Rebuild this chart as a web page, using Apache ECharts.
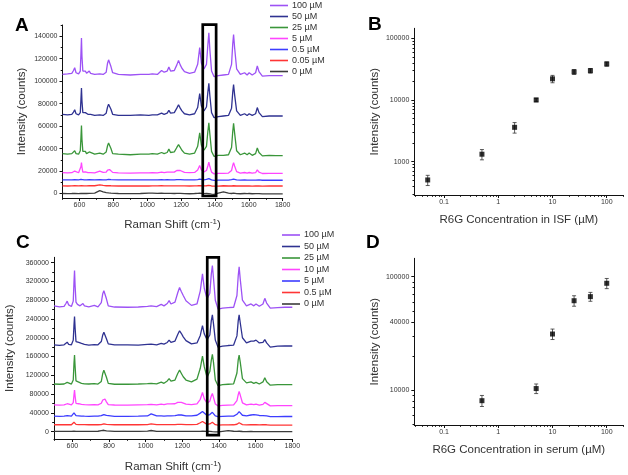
<!DOCTYPE html>
<html><head><meta charset="utf-8">
<script src="https://cdn.jsdelivr.net/npm/echarts@6/dist/echarts.min.js"></script>
<style>html,body{margin:0;padding:0;background:#fff}#c{width:628px;height:475px}</style>
</head><body><div id="c"></div>
<script>
// ---------------- DATA ----------------
const ramanShift = [500,530,555,565,572,580,595,605,609,612,615,620,628,635,642,650,658,666,690,720,740,758,766,772,778,786,796,830,900,960,1010,1030,1060,1085,1100,1118,1128,1138,1160,1175,1185,1195,1205,1220,1250,1280,1298,1310,1320,1335,1350,1358,1364,1370,1380,1395,1420,1450,1480,1498,1505,1510,1516,1528,1550,1575,1590,1602,1620,1640,1650,1660,1680,1720,1760,1800];

// Panel A (ISF)
const a100 = [106000,106500,107000,109500,112000,107500,106500,109000,125000,138500,122000,109000,107500,109000,107000,107000,109000,107000,106000,106500,106000,108000,116000,119000,118500,113000,107500,106000,105500,106000,106000,106500,106000,109500,108000,109000,112500,109000,109500,114500,118500,114500,111500,108500,107000,108000,115000,130000,116000,111000,115000,132000,143000,128000,109000,104000,105000,105500,106000,115000,133000,141500,130000,111000,106000,107500,105500,107500,105500,107500,113500,108500,104500,105000,105000,105000];
const a50 = [70500,70000,70500,72500,74500,71000,70000,72000,84000,94000,82000,72000,71000,72000,70500,70500,72000,70500,69500,70000,69500,71500,77000,79500,79000,75000,70500,69500,69500,70000,69500,70000,70000,71500,70500,71500,74000,71500,72000,76000,79000,76000,73500,71000,70000,71000,76500,89000,78000,73500,77000,90000,98000,87000,72000,67500,68500,69000,69500,76000,90000,97000,88000,73500,69500,71000,69500,71000,69500,71000,76500,72000,68500,69000,69000,69000];
const a25 = [35500,35000,35500,36500,38000,35500,35000,38000,50000,60500,48000,37500,36000,37500,35500,35500,37000,35500,35000,36000,35000,37000,42500,45000,44500,40000,35500,35000,34500,35000,35000,35500,35000,36500,35500,36500,39500,36500,37000,41000,43500,41000,38500,36000,35000,36000,42000,54000,43000,38500,42000,55000,63000,53000,37500,33000,34000,34000,34500,41000,55000,62500,54000,38000,34500,36000,34500,36000,34000,35500,40500,36500,33500,34000,33800,33700];
const a5 = [18500,18300,18500,19000,20000,18700,18500,19500,24000,27500,23500,19000,18700,19200,18500,18500,19000,18500,18400,20000,18800,19000,20800,21500,21300,20000,18800,18400,18200,18400,18300,18500,18400,19000,18600,19000,20500,19000,19000,20500,21500,20500,19500,18800,18500,18800,21000,25000,21000,19300,20500,24500,28000,24000,19000,17500,18000,18000,18200,20500,25000,27500,24500,19500,18200,18700,18200,18700,18100,18500,21000,19000,17800,18000,18000,18000];
const a05 = [12200,12100,12200,12300,12400,12200,12200,12300,12600,12800,12500,12200,12200,12300,12200,12200,12300,12200,12100,12300,12200,12200,12400,12600,12500,12300,12200,12100,12100,12200,12100,12200,12200,12300,12200,12300,12400,12200,12200,12300,12500,12300,12200,12200,12100,12200,12400,12800,12400,12200,12500,12900,13300,12800,12100,11700,11900,12000,12000,12300,12700,12900,12600,12200,12000,12100,11900,12000,11900,12000,12500,12100,11800,11800,11800,11800];
const a005 = [6800,6700,6800,6800,6900,6800,6800,6800,6900,7000,6900,6800,6800,6900,6800,6800,6900,6800,6900,7600,7200,6900,6900,7000,7000,6900,6800,6700,6700,6800,6700,6800,6800,6900,6800,6800,6900,6800,6800,6800,6900,6800,6800,6800,6700,6800,6900,7000,6900,6800,6900,7000,7200,7000,6700,6500,6600,6900,6700,6700,6800,6900,6800,6700,6700,6700,6700,6700,6600,6700,6800,6700,6600,6700,6700,6700];
const a0 = [0,-100,0,100,200,0,-100,0,200,300,100,0,0,100,0,0,100,0,400,2500,1500,800,600,500,400,300,100,0,-100,0,300,400,100,300,200,100,200,100,0,100,200,100,0,-100,-200,0,200,300,100,-100,0,100,-200,-400,-600,-800,300,1500,400,0,100,300,100,-100,-200,0,-100,0,-200,-100,100,-100,-300,-300,-300,-300];

// Panel C (serum)
const c100 = [268000,266000,267000,273000,278000,270000,266500,278000,318000,343000,312000,276000,271000,273000,268000,270000,273000,268000,266000,269000,266000,275000,294000,300000,297000,283000,268000,265500,265000,265500,267000,268000,266500,271000,268000,273000,279000,272000,276000,296000,307000,298000,290000,279000,269000,272000,300000,336000,305000,283000,295000,335000,354000,327000,280000,261000,263000,264000,265000,290000,332000,351000,325000,280000,268000,272000,268000,272000,267000,272000,284000,274000,263000,264000,265000,265000];
const c50 = [185000,184000,185000,188000,190500,186000,185000,195000,226000,245000,222000,192000,188000,190000,186000,188000,190000,186000,184500,185500,185000,192000,206000,212000,209000,198000,187000,185000,185000,184500,186000,186500,185000,188000,186500,190000,195000,190000,193000,207000,215000,209000,202000,194000,187000,189000,205000,226000,208000,196000,206000,236000,249000,230000,195000,180000,182000,183500,184500,204000,236000,249000,232000,200000,189000,193000,193000,195000,189000,190000,196000,189000,180000,182000,182500,182500];
const c25 = [101500,101000,101500,103500,105000,102000,101500,110000,145000,163000,140000,108000,104000,105500,102000,103000,105000,102000,101500,102500,101500,107000,124000,131000,128000,116000,103000,101000,101000,101500,102500,103000,102000,105500,103000,108000,113000,107500,110000,124000,131000,124000,117000,110000,106000,112000,135000,161000,138000,116000,128000,152000,164500,148000,110000,98000,100000,101000,102000,125000,153000,163000,148000,113000,104000,106000,103000,105000,101500,106000,115000,106500,99000,100000,100000,100000];
const c10 = [57000,56500,57000,58500,59500,57500,57000,62000,78000,88500,76000,60500,58500,59500,57500,58000,59000,57500,57000,57500,57000,60500,67500,71000,69500,63500,57500,56800,56500,57000,57500,58000,57000,58500,57800,59000,61000,59000,59500,62500,64500,62500,60500,58500,57500,59000,69000,83500,70000,60500,65000,76000,81500,73000,59000,55000,56000,56500,57000,66000,79000,85500,78000,61500,57000,58500,57500,58500,56500,58000,62500,58500,55000,55500,55400,55400];
const c5 = [33000,32800,33000,33500,34000,33200,33000,35000,40000,42500,39000,34000,33300,33800,33000,33200,33800,33000,32800,33200,33000,34000,35500,36500,36000,34500,33000,32800,32800,33000,33500,38000,33500,33500,33200,33800,34500,33800,34000,35500,36500,35500,34500,33800,33500,35000,39500,42800,39000,34500,36500,39500,41300,38500,33500,32000,32500,33000,33000,37000,41000,42800,40000,35000,33500,35500,36500,36000,34500,34000,35000,33500,32000,32200,32300,32300];
const c05 = [14800,14700,14800,15000,15200,14900,14800,16500,20000,21700,19000,15500,15000,15200,14900,15000,15200,14900,14800,15000,14800,15200,16000,16800,16500,15500,14900,14800,14800,14800,15200,16500,15000,15000,14900,15100,15400,15100,15200,15600,16000,15600,15300,15000,14900,15500,19000,21700,19000,15500,16500,19000,20000,18000,15000,13800,14300,14600,14700,15800,18000,19000,17500,15000,14600,14800,14700,14800,14500,14700,15800,14700,14000,14000,14000,14000];
const c0 = [600,500,600,700,800,600,600,700,900,1000,800,600,600,700,600,600,700,600,600,800,900,2200,3000,3000,2500,1500,800,600,500,600,1200,2500,800,700,600,700,800,700,700,800,900,800,700,600,500,600,800,900,700,500,500,300,0,-200,-300,-500,800,2200,900,500,700,900,700,400,300,400,300,300,200,200,300,200,0,0,0,0];

const legendA = ['100 µM','50 µM','25 µM','5 µM','0.5 µM','0.05 µM','0 µM'];
const legendC = ['100 µM','50 µM','25 µM','10 µM','5 µM','0.5 µM','0 µM'];

// Panel B (ISF calibration)
const concB = [0.05, 0.5, 2, 5, 10, 25, 50, 100];
const intensityB = [505, 1320, 3600, 10000, 22000, 28500, 29800, 38300];
const errorB = [95, 250, 700, 650, 3000, 2500, 2500, 3000];
// Panel D (serum calibration)
const concD = [0.5, 5, 10, 25, 50, 100];
const intensityD = [8050, 10300, 31200, 61400, 66700, 87500];
const errorD = [900, 1000, 3300, 6500, 6000, 9000];

// Tick values
const ticksShift = [600,800,1000,1200,1400,1600,1800];
const minorShift = [500,700,900,1100,1300,1500,1700];
const ticksA = [0,20000,40000,60000,80000,100000,120000,140000];
const minorA = [10000,30000,50000,70000,90000,110000,130000,150000];
const ticksC = [0,40000,80000,120000,160000,200000,240000,280000,320000,360000];
const minorC = [20000,60000,100000,140000,180000,220000,260000,300000,340000];
const ticksConc = [0.1,1,10,100];
const minorConc = [0.03,0.04,0.05,0.06,0.07,0.08,0.09,0.2,0.3,0.4,0.5,0.6,0.7,0.8,0.9,2,3,4,5,6,7,8,9,20,30,40,50,60,70,80,90,200];
const ticksB = [1000,10000,100000];
const minorB = [300,400,500,600,700,800,900,2000,3000,4000,5000,6000,7000,8000,9000,20000,30000,40000,50000,60000,70000,80000,90000];
const ticksD = [10000,40000,100000];
const minorD = [5000,6000,7000,8000,9000,20000,30000,50000,60000,70000,80000,90000];

// Highlight boxes [xMin, xMax, yMin, yMax]
const boxA = [1328, 1407, -2200, 150400];
const boxC = [1336, 1399, -7200, 371400];

// ---------------- STYLE / BUILD ----------------
const colorsA = ['#9d52f5','#2f3291','#3a963a','#ff45ff','#3d3dff','#ff3535','#3c3c3c'];
const colorsC = ['#9d52f5','#2f3291','#3a963a','#ff45ff','#3d3dff','#ff3535','#3c3c3c'];
const FONT = '"Liberation Sans", Arial, sans-serif';

const grids = [
  {left: 62.5, top: 25, width: 220.2, height: 173},
  {left: 414.3, top: 28.3, width: 209, height: 166.7},
  {left: 54, top: 257.3, width: 238.3, height: 183.4},
  {left: 414.3, top: 258.3, width: 209, height: 166.7}
];

function axisPair(dim, g, type, min, max, major, minor, name, nameGap) {
  const base = {
    type: type, gridIndex: g, min: min, max: max,
    position: dim === 'x' ? 'bottom' : 'left',
    splitLine: {show: false}, silent: true
  };
  if (type === 'log') base.logBase = 10;
  const main = Object.assign({}, base, {
    axisLine: {show: true, onZero: false, lineStyle: {color: '#111', width: 1}},
    axisTick: {show: true, customValues: major, length: 3, lineStyle: {color: '#111', width: 1}},
    axisLabel: {show: true, customValues: major, fontSize: 7, color: '#333', fontFamily: FONT,
                margin: dim === 'x' ? 4 : 5, formatter: v => String(v)},
    name: name, nameLocation: 'middle', nameGap: nameGap,
    nameTextStyle: {fontSize: 11.5, color: '#333', fontFamily: FONT, lineHeight: 14,
      rich: {sup: {fontSize: 8, color: '#333', fontFamily: FONT, verticalAlign: 'top', lineHeight: 9}}}
  });
  const mn = Object.assign({}, base, {
    axisLine: {show: false, onZero: false},
    axisTick: {show: true, customValues: minor, length: 1.8, lineStyle: {color: '#111', width: 1}},
    axisLabel: {show: false}
  });
  return [main, mn];
}

const xAxes = [].concat(
  axisPair('x', 0, 'value', 500, 1800, ticksShift, minorShift, 'Raman Shift (cm{sup|-1})', 20),
  axisPair('x', 1, 'log', 0.0283, 202, ticksConc, minorConc, 'R6G Concentration in ISF (µM)', 18),
  axisPair('x', 2, 'value', 500, 1800, ticksShift, minorShift, 'Raman Shift (cm{sup|-1})', 21),
  axisPair('x', 3, 'log', 0.0283, 202, ticksConc, minorConc, 'R6G Concentration in serum (µM)', 18)
);
const yAxes = [].concat(
  axisPair('y', 0, 'value', -4000, 150000, ticksA, minorA, 'Intensity (counts)', 34),
  axisPair('y', 1, 'log', 288, 145000, ticksB, minorB, 'Intensity (counts)', 28),
  axisPair('y', 2, 'value', -15600, 371400, ticksC, minorC, 'Intensity (counts)', 37),
  axisPair('y', 3, 'log', 4910, 145400, ticksD, minorD, 'Intensity (counts)', 29)
);

function spectrum(prefix, label, arr, color, g) {
  return {
    type: 'line', name: prefix + label, xAxisIndex: 2 * g, yAxisIndex: 2 * g,
    data: ramanShift.map((x, i) => [x, arr[i]]),
    showSymbol: false, symbol: 'none', lineStyle: {color: color, width: 1.3}, itemStyle: {color: color},
    silent: true, animation: false, z: 2
  };
}

const seriesA = [a100, a50, a25, a5, a05, a005, a0];
const seriesC = [c100, c50, c25, c10, c5, c05, c0];
const series = [];
seriesA.forEach((arr, i) => series.push(spectrum('A:', legendA[i], arr, colorsA[i], 0)));
seriesC.forEach((arr, i) => series.push(spectrum('C:', legendC[i], arr, colorsC[i], 2)));

function boxSeries(box, g) {
  return {
    type: 'custom', xAxisIndex: 2 * g, yAxisIndex: 2 * g, clip: false, silent: true, z: 5,
    data: [box], encode: {x: [0, 1], y: [2, 3]},
    renderItem: (p, api) => {
      const a = api.coord([api.value(0), api.value(2)]);
      const b = api.coord([api.value(1), api.value(3)]);
      return {type: 'rect',
        shape: {x: Math.min(a[0], b[0]), y: Math.min(a[1], b[1]), width: Math.abs(b[0] - a[0]), height: Math.abs(b[1] - a[1])},
        style: {fill: 'none', stroke: '#000', lineWidth: 2.7}};
    }
  };
}
series.push(boxSeries(boxA, 0));
series.push(boxSeries(boxC, 2));

function errSeries(conc, val, err, g) {
  return {
    type: 'custom', xAxisIndex: 2 * g, yAxisIndex: 2 * g, silent: true, z: 3,
    data: conc.map((c, i) => [c, val[i], err[i]]), encode: {x: 0, y: 1},
    renderItem: (p, api) => {
      const x = api.value(0), y = api.value(1), e = api.value(2);
      const t = api.coord([x, y + e]), b = api.coord([x, y - e]);
      const w = 2, st = {stroke: '#333', lineWidth: 0.8};
      return {type: 'group', children: [
        {type: 'line', shape: {x1: t[0], y1: t[1], x2: b[0], y2: b[1]}, style: st},
        {type: 'line', shape: {x1: t[0] - w, y1: t[1], x2: t[0] + w, y2: t[1]}, style: st},
        {type: 'line', shape: {x1: b[0] - w, y1: b[1], x2: b[0] + w, y2: b[1]}, style: st}
      ]};
    }
  };
}
function dotSeries(conc, val, g) {
  return {
    type: 'scatter', xAxisIndex: 2 * g, yAxisIndex: 2 * g, silent: true, z: 4,
    data: conc.map((c, i) => [c, val[i]]), symbol: 'rect', symbolSize: 5,
    itemStyle: {color: '#000'}
  };
}
series.push(errSeries(concB, intensityB, errorB, 1), dotSeries(concB, intensityB, 1));
series.push(errSeries(concD, intensityD, errorD, 3), dotSeries(concD, intensityD, 3));

function legend(prefix, labels, left, top, gap) {
  return {
    orient: 'vertical', left: left, top: top, padding: 0, itemGap: gap,
    itemWidth: 18, itemHeight: 1.6, icon: 'rect', selectedMode: false,
    data: labels.map(l => prefix + l),
    formatter: n => n.slice(prefix.length),
    textStyle: {fontSize: 9, color: '#333', fontFamily: FONT, lineHeight: 11, padding: [0, 0, 0, -1]}
  };
}

const letter = (t, left, top) => ({text: t, left: left, top: top, padding: 0,
  textStyle: {fontSize: 19, fontWeight: 'bold', color: '#000', fontFamily: FONT}});

const chart = echarts.init(document.getElementById('c'), null, {renderer: 'canvas'});
chart.setOption({
  animation: false,
  backgroundColor: '#fff',
  title: [letter('A', 15, 16), letter('B', 368, 15), letter('C', 16, 233), letter('D', 366, 233)],
  legend: [legend('A:', legendA, 270, 0, 0), legend('C:', legendC, 282, 229.5, 0.5)],
  grid: grids,
  xAxis: xAxes,
  yAxis: yAxes,
  series: series
});
</script></body></html>
